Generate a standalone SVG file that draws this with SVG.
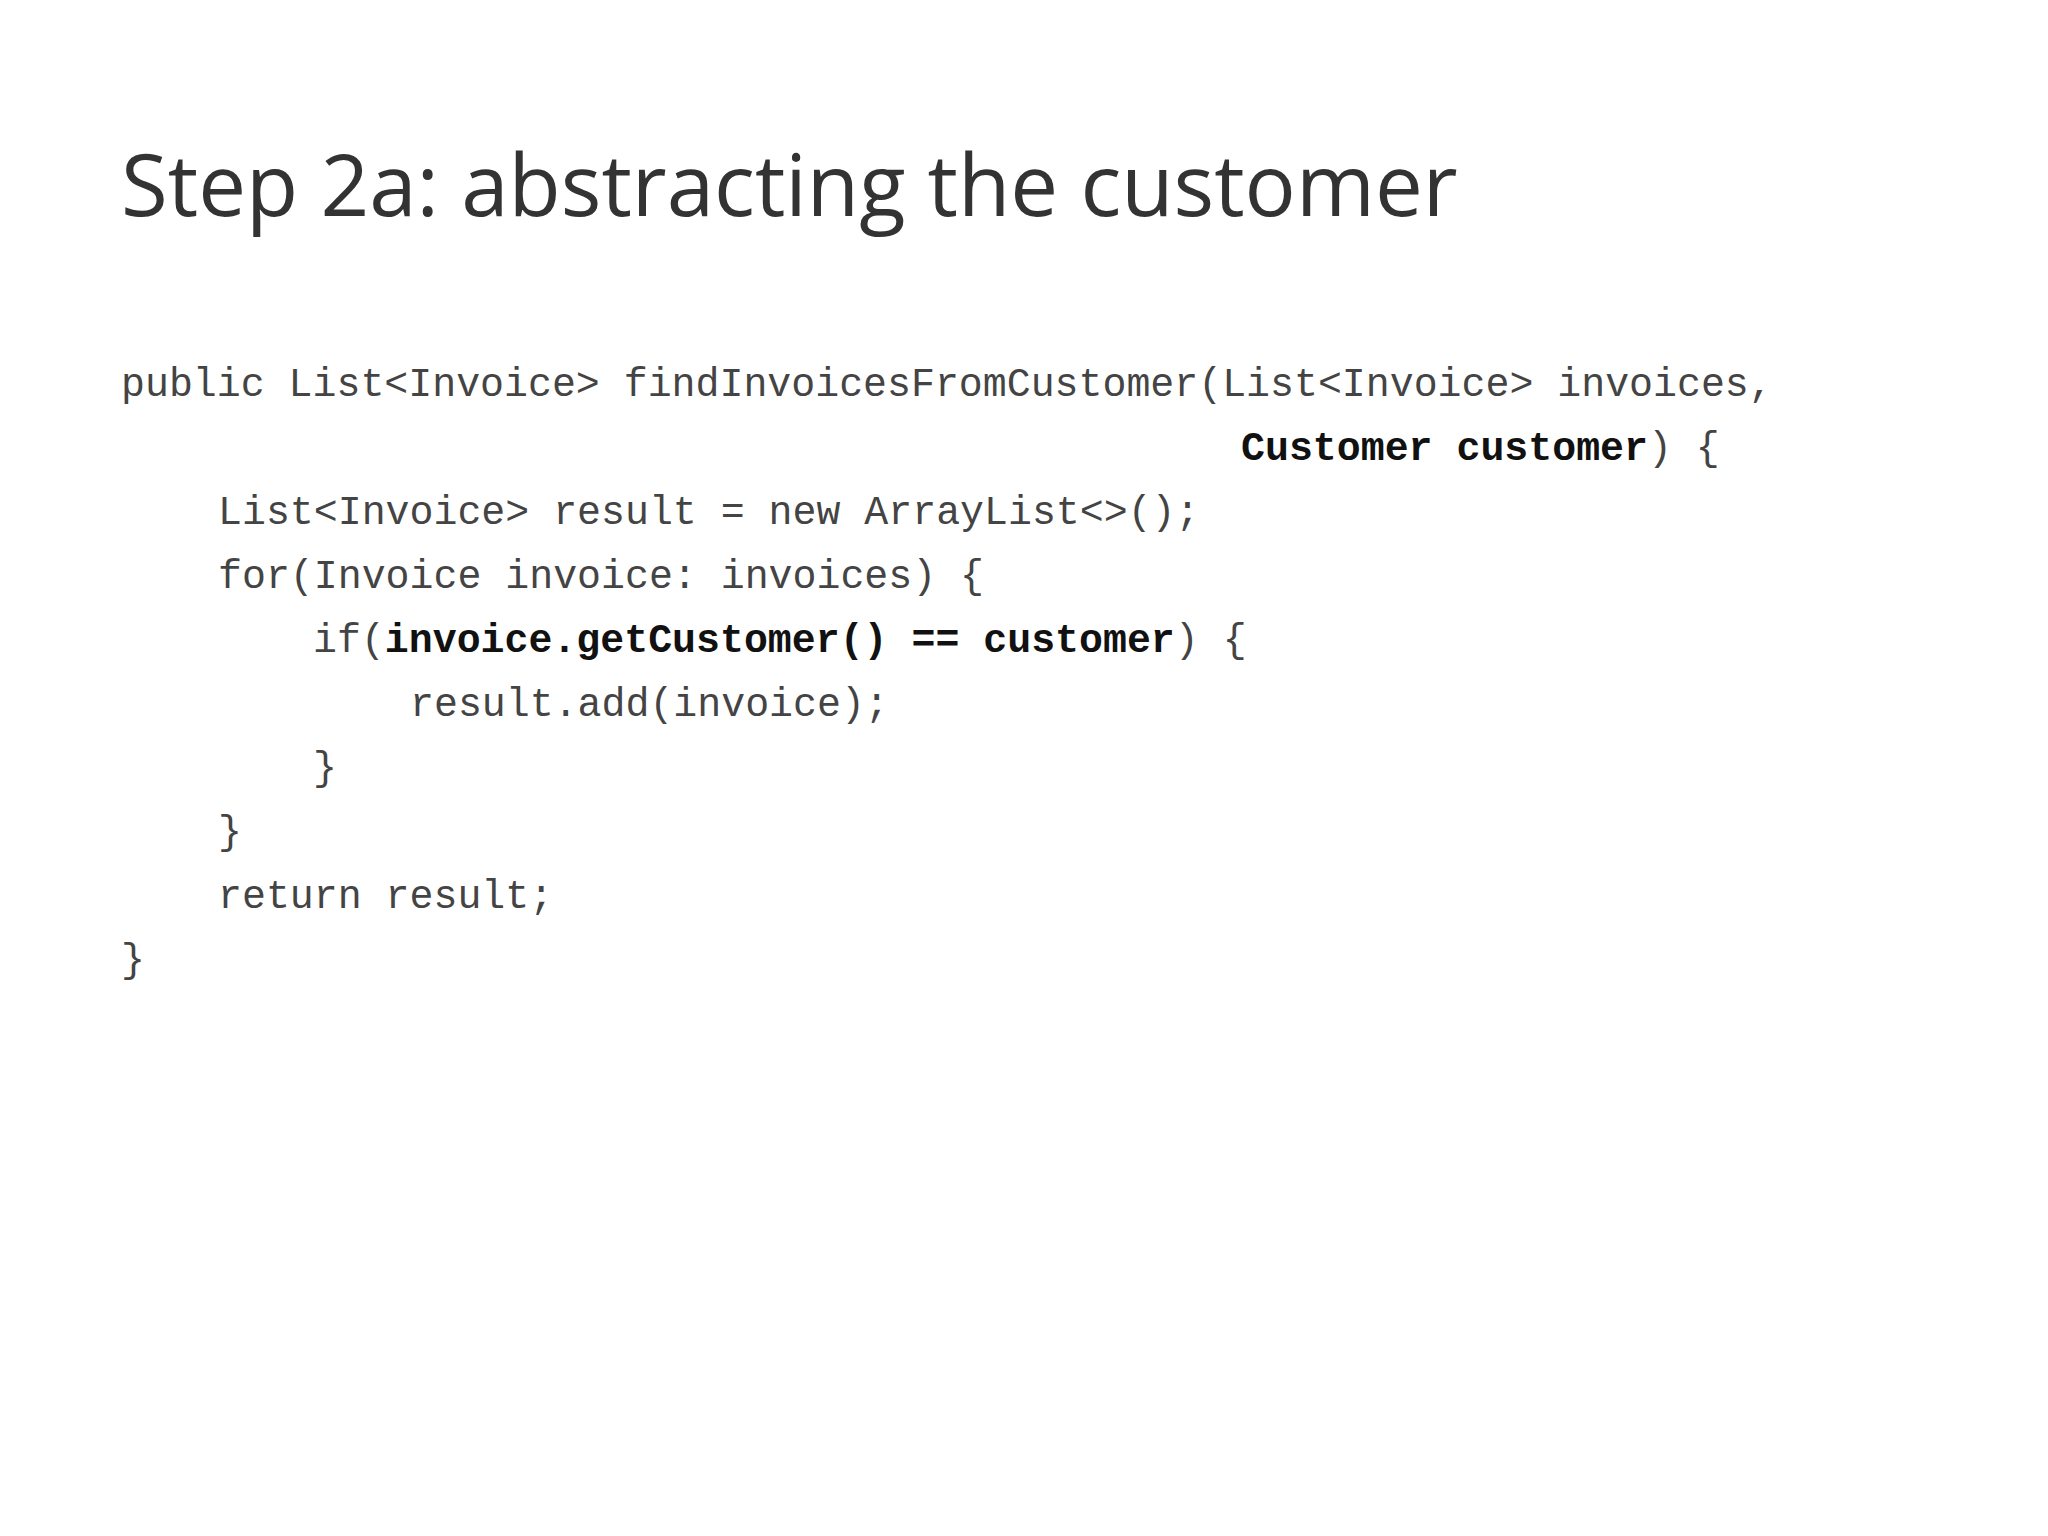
<svg xmlns="http://www.w3.org/2000/svg" width="2048" height="1536" viewBox="0 0 2048 1536">
<style>
.t{font-family:"Open Sans","Noto Sans",sans-serif;font-size:85.3px;fill:#333}
.c{font-family:"Liberation Mono","Courier New",monospace;font-size:39.9px;fill:#444;white-space:pre}
.b{font-weight:bold;fill:#111}
</style>
<rect width="2048" height="1536" fill="#fff"/>
<text class="t" x="121" y="216">Step 2a: abstracting the customer</text>
<g id="code">
<text class="c" x="121" y="396">public List&lt;Invoice&gt; findInvoicesFromCustomer(List&lt;Invoice&gt; invoices,</text>
<text class="c" x="1241" y="460"><tspan class="b">Customer customer</tspan>) {</text>
<text class="c" x="218" y="524">List&lt;Invoice&gt; result = new ArrayList&lt;&gt;();</text>
<text class="c" x="218" y="588">for(Invoice invoice: invoices) {</text>
<text class="c" x="313" y="652">if(<tspan class="b">invoice.getCustomer() == customer</tspan>) {</text>
<text class="c" x="410" y="716">result.add(invoice);</text>
<text class="c" x="313" y="780">}</text>
<text class="c" x="218" y="844">}</text>
<text class="c" x="218" y="908">return result;</text>
<text class="c" x="121" y="972">}</text>
</g>
</svg>
